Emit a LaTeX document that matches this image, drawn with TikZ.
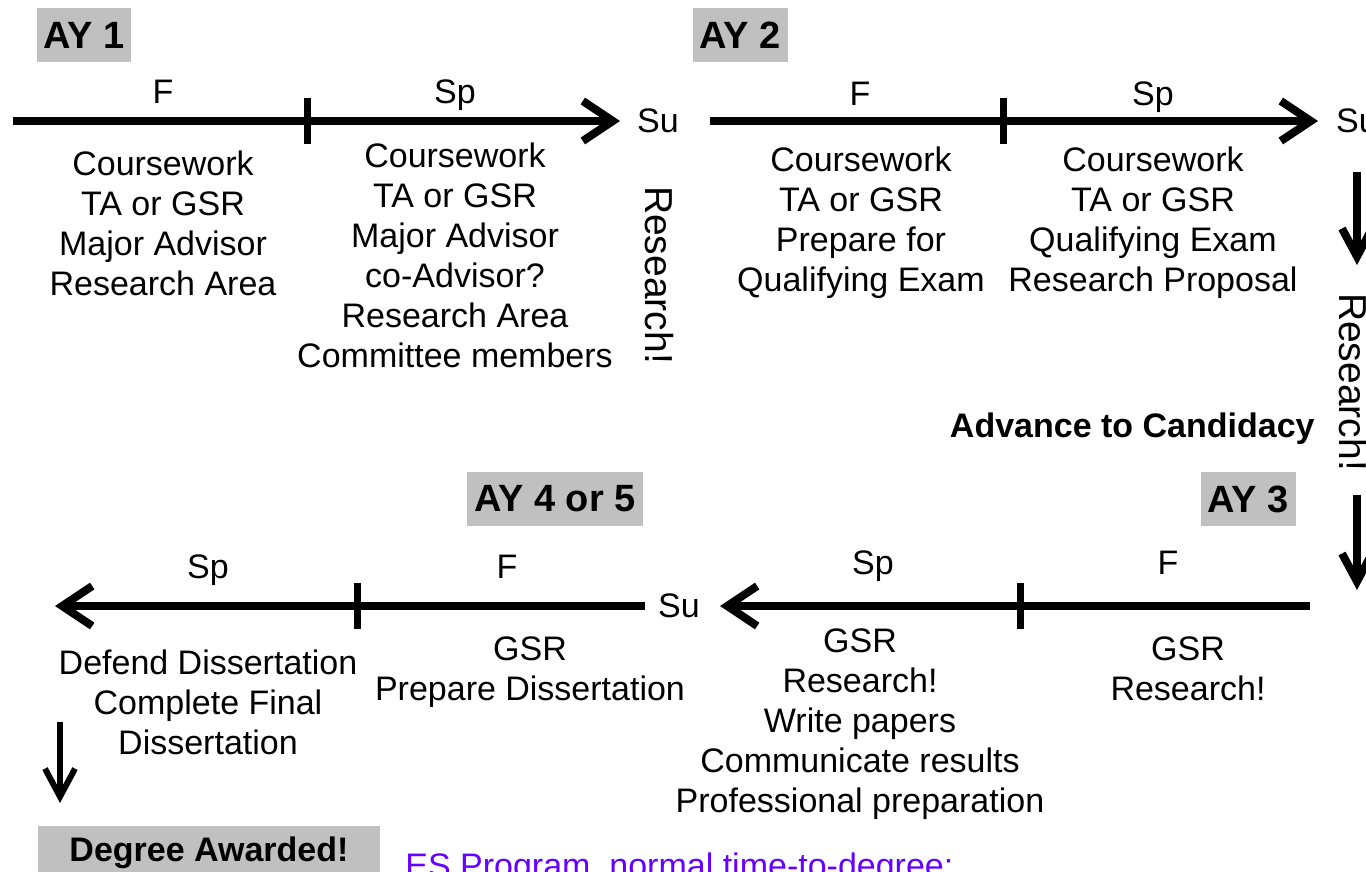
\documentclass[tikz,border=0pt]{standalone}
\usepackage{fontspec}
\setmainfont{Liberation Sans}
\usetikzlibrary{arrows.meta}
\definecolor{aygray}{RGB}{192,192,192}
\definecolor{notepurple}{RGB}{102,0,255}
\tikzset{
  timeline/.style={line width=4pt,-{Straight Barb[length=15pt,width=20pt]}},
  goon/.style={line width=4pt,-{Straight Barb[length=14pt,width=15pt]}},
  tickmark/.style={line width=3.5pt},
}
\begin{document}
\begin{tikzpicture}[x=0.5pt,y=-0.5pt,
	every node/.style={inner sep=0pt},
	term/.style={font=\fontsize{17}{20}\selectfont,anchor=base},
	items/.style={font=\fontsize{17}{20}\selectfont,align=center,anchor=north},
	yearbox/.style={fill=aygray,font=\fontsize{19}{22}\bfseries\selectfont,minimum height=27pt,inner xsep=3.5pt},
	vert/.style={font=\fontsize{19.5}{22}\selectfont,rotate=-90}]
	\useasboundingbox (0,0) rectangle (1366,872);
	\clip (0,0) rectangle (1366,872);
	% year labels
	\node[yearbox] (ay1) at (84,35) {AY 1};
	\node[yearbox] (ay2) at (740,35) {AY 2};
	\node[yearbox] (ay3) at (1248,499) {AY 3};
	\node[yearbox] (ay45) at (555,499) {AY 4 or 5};
	% first year
	\coordinate (s1) at (13,121);
	\coordinate (e1) at (620,121);
	\draw[timeline] (s1) -- (e1);
	\node[term] (f1) at (163,104) {F};
	\node[term] (sp1) at (455,104) {Sp};
	\node[term] (su1) at (658,133) {Su};
	\node[items] (fall1) at (163,150) {Coursework\\TA or GSR\\Major Advisor\\Research Area};
	\node[items] (spring1) at (455,142) {Coursework\\TA or GSR\\Major Advisor\\co-Advisor?\\Research Area\\Committee members};
	\node[vert] (res1) at (659,275) {Research!};
	% second year
	\coordinate (s2) at (710,121);
	\coordinate (e2) at (1318,121);
	\draw[timeline] (s2) -- (e2);
	\node[term] (f2) at (860,106) {F};
	\node[term] (sp2) at (1153,106) {Sp};
	\node[term] (su2) at (1357,133) {Su};
	\node[items] (fall2) at (861,146) {Coursework\\TA or GSR\\Prepare for\\Qualifying Exam};
	\node[items] (spring2) at (1153,146) {Coursework\\TA or GSR\\Qualifying Exam\\Research Proposal};
	% summer after AY 2
	\coordinate (d1) at (1357,172);
	\coordinate (d2) at (1357,265);
	\draw[goon] (d1) -- (d2);
	\node[vert] (res2) at (1353,382) {Research!};
	\coordinate (d3) at (1357,495);
	\coordinate (d4) at (1357,590);
	\draw[goon] (d3) -- (d4);
	\node[anchor=base east,font=\fontsize{17}{20}\bfseries\selectfont] (adv) at (1315,437) {Advance to Candidacy};
	% third year
	\coordinate (s3) at (1310,606);
	\coordinate (e3) at (720,606);
	\draw[timeline] (s3) -- (e3);
	\node[term] (f3) at (1168,574) {F};
	\node[term] (sp3) at (873,574) {Sp};
	\node[term] (su3) at (679,617) {Su};
	\node[items] (fall3) at (1188,636) {GSR\\Research!};
	\node[items] (spring3) at (860,628) {GSR\\Research!\\Write papers\\Communicate results\\Professional preparation};
	% final year
	\coordinate (s4) at (645,606);
	\coordinate (e4) at (55,606);
	\draw[timeline] (s4) -- (e4);
	\node[term] (f4) at (507,578) {F};
	\node[term] (sp4) at (208,578) {Sp};
	\node[items] (fall4) at (530,636) {GSR\\Prepare Dissertation};
	\node[items] (spring4) at (208,649) {Defend Dissertation\\Complete Final\\Dissertation};
	% semester ticks
	\foreach \x/\y in {307/121,1003/121,1020/606,357/606}
		\draw[tickmark] (\x,\y-23) -- (\x,\y+23);
	% degree
	\coordinate (g1) at (60,722);
	\coordinate (g2) at (60,803);
	\draw[goon,line width=3pt] (g1) -- (g2);
	\node[yearbox,minimum width=171pt,font=\fontsize{17}{20}\bfseries\selectfont] (deg) at (209,853) {Degree Awarded!};
	\node[anchor=base west,font=\fontsize{17}{20}\selectfont,text=notepurple] (note) at (405,877) {ES Program, normal time-to-degree:};
\end{tikzpicture}
\end{document}
